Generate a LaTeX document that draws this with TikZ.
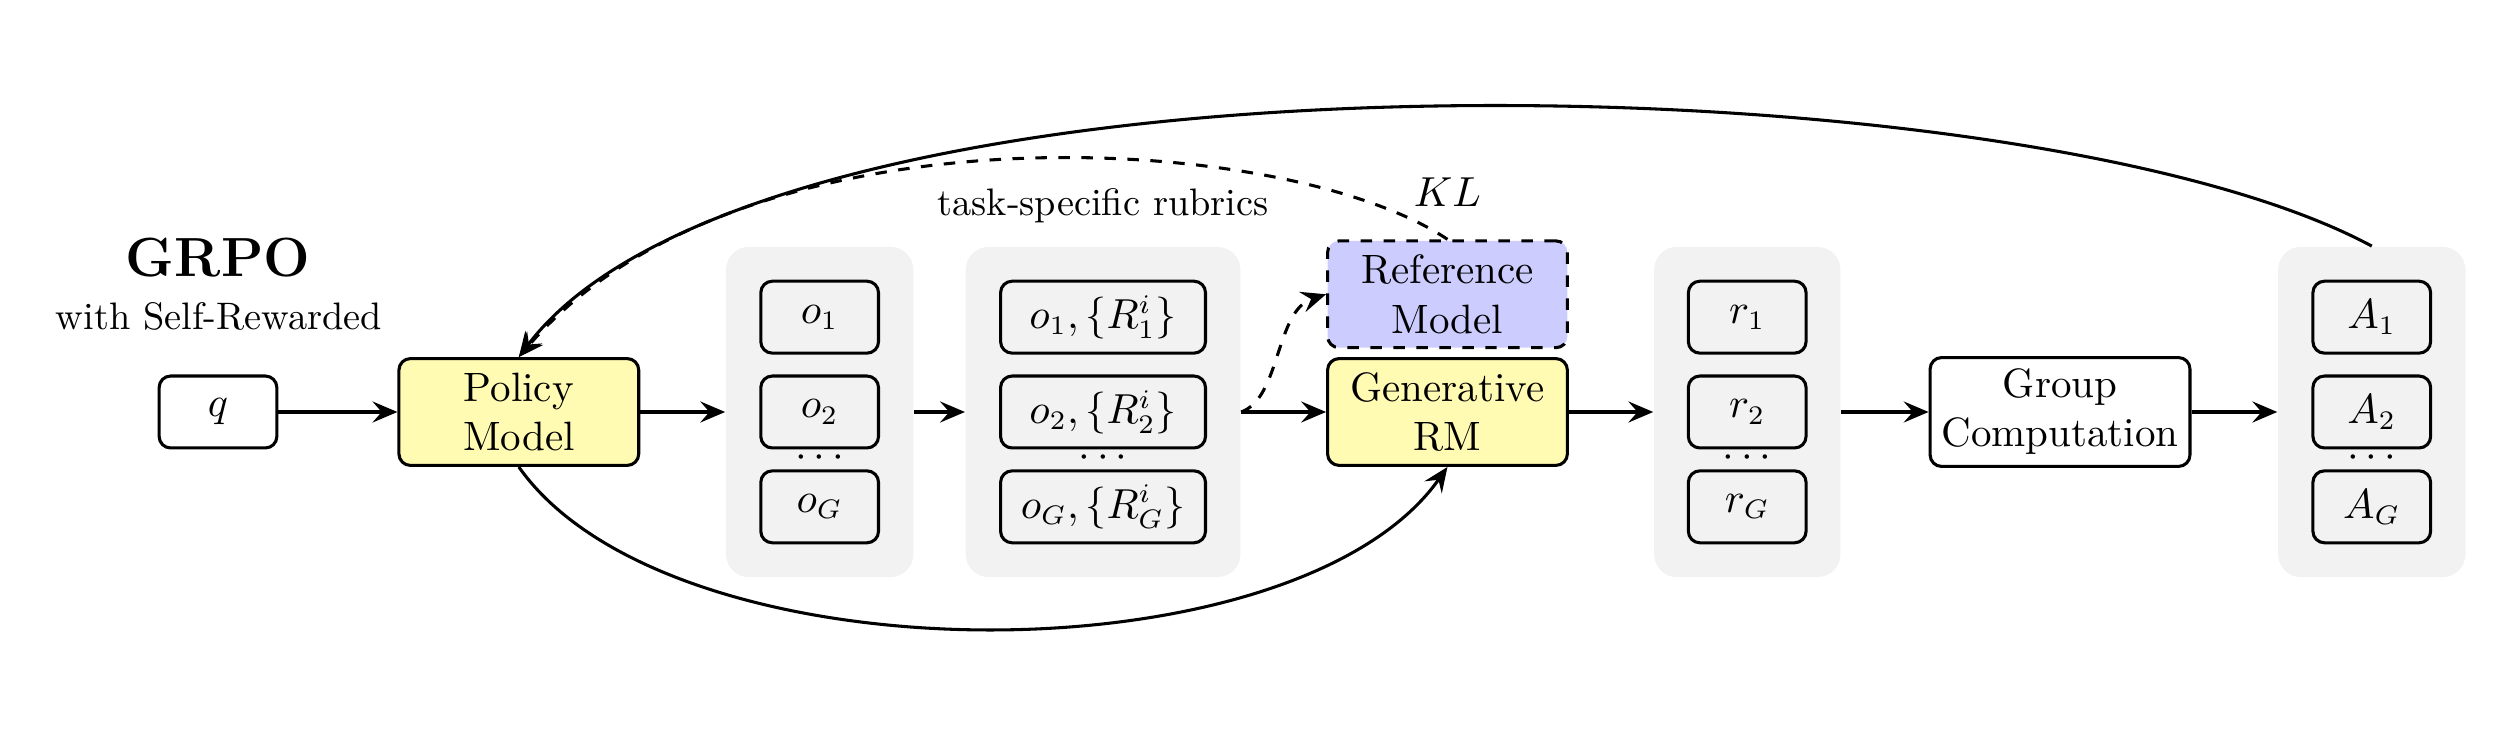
\documentclass[tikz,border=0pt]{standalone}
\usetikzlibrary{arrows.meta}
\begin{document}
\begin{tikzpicture}[>={Stealth[length=6.5pt,width=5.5pt,inset=2.4pt]},x=1.0cm,y=1.0cm,
	every node/.style={font=\fontsize{10.7}{12.8}\selectfont},
	box/.style={draw,thick,rounded corners=3pt,minimum width=1.08cm,minimum height=0.66cm,inner sep=2pt},
	model/.style={draw,thick,rounded corners=3pt,align=center,minimum width=2.2cm,minimum height=0.98cm,inner sep=3pt},
	groupbg/.style={fill=gray!10,rounded corners=6pt,minimum height=3.03cm},
	flow/.style={->,thick}]
		\useasboundingbox (0,0) rectangle (23.01,6.70);
		\node[font=\Large\bfseries] (title) at (2.00,4.34) {GRPO};
		\node[font=\normalsize] (sub) at (2.01,3.80) {with Self-Rewarded};
		\node[box] (q) at (2.00,2.92) {$q$};
		\node[model,fill=yellow!30] (policy) at (4.76,2.92) {Policy\\Model};
		% groups
		\node[groupbg,minimum width=1.72cm] (og) at (7.52,2.92) {};
		\node[groupbg,minimum width=2.52cm] (rg) at (10.12,2.92) {};
		\node[groupbg,minimum width=1.71cm] (sg) at (16.03,2.92) {};
		\node[groupbg,minimum width=1.72cm] (ag) at (21.76,2.92) {};
		\foreach \s/\y in {1/3.79,2/2.92,G/2.05}{
			\node[box] (o\s) at (7.52,\y) {$o_\s$};
			\node[box,minimum width=1.88cm] (c\s) at (10.12,\y) {$o_\s,\{R_\s^i\}$};
			\node[box] (r\s) at (16.03,\y) {$r_\s$};
			\node[box] (a\s) at (21.76,\y) {$A_\s$};
		}
		\foreach \x in {7.52,10.12,16.03,21.76} \node at (\x,2.50) {$\cdots$};
		\node[model,fill=blue!20,dashed] (ref) at (13.28,4.00) {Reference\\Model};
		\node[model,fill=yellow!30] (grm) at (13.28,2.92) {Generative\\RM};
		\node[model] (gc) at (18.90,2.92) {Group\\Computation};
		\node[font=\normalsize] (rub) at (10.12,4.81) {task-specific rubrics};
		\node (kl) at (13.28,4.94) {$KL$};
		% arrows
		\draw[flow] (q) -- (policy);
		\draw[flow] (policy) -- (og);
		\draw[flow] (og) -- (rg);
		\draw[flow] (rg) -- (grm);
		\draw[flow] (grm) -- (sg);
		\draw[flow] (sg) -- (gc);
		\draw[flow] (gc) -- (ag);
		\draw[flow,dashed] (rg.east) .. controls (11.75,3.05) and (11.70,3.85) .. (ref.west);
		\draw[flow] (policy.south) .. controls (6.15,0.44) and (11.89,0.44) .. (grm.south);
		\draw[flow] (ag.north) .. controls (18.5,6.2) and (7,6.4) .. (policy.north);
		\draw[flow,dashed] (ref.north) .. controls (11.8,5.5) and (6.8,5.8) .. (policy.north);
\end{tikzpicture}
\end{document}
